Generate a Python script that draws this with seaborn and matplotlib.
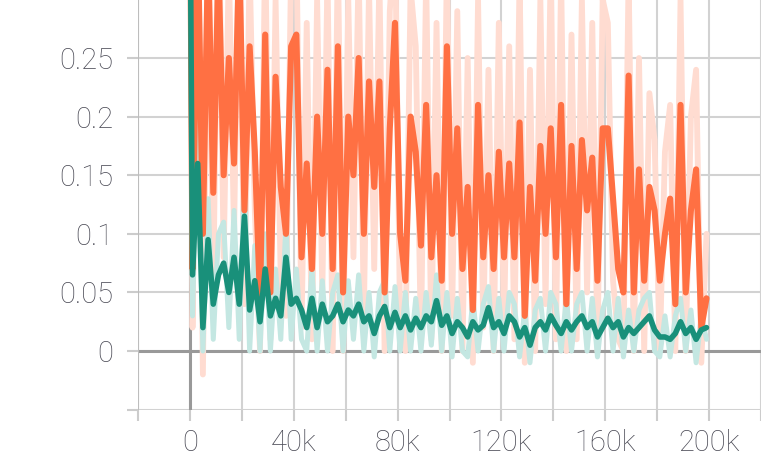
import numpy as np
import pandas as pd
import matplotlib
matplotlib.use("Agg")
import matplotlib.pyplot as plt
import seaborn as sns

# ── Data ──────────────────────────────────────────────────────
steps = [0] + list(range(1000, 200001, 2000))

orange_smooth = [
    0.42, 0.07, 0.36, 0.10, 0.34, 0.135, 0.33, 0.15, 0.25, 0.16,
    0.34, 0.12, 0.26, 0.17, 0.043, 0.27, 0.05, 0.234, 0.14, 0.10,
    0.26, 0.27, 0.08, 0.16, 0.07, 0.20, 0.10, 0.24, 0.07, 0.26,
    0.05, 0.20, 0.15, 0.25, 0.10, 0.23, 0.14, 0.23, 0.05, 0.19,
    0.28, 0.10, 0.06, 0.20, 0.17, 0.09, 0.21, 0.08, 0.15, 0.06,
    0.26, 0.10, 0.19, 0.07, 0.14, 0.035, 0.21, 0.08, 0.15, 0.07,
    0.17, 0.08, 0.16, 0.08, 0.195, 0.03, 0.14, 0.06, 0.175, 0.10,
    0.19, 0.08, 0.21, 0.04, 0.175, 0.07, 0.18, 0.12, 0.165, 0.06,
    0.19, 0.19, 0.13, 0.07, 0.05, 0.235, 0.05, 0.155, 0.06, 0.14,
    0.12, 0.06, 0.10, 0.13, 0.04, 0.21, 0.05, 0.12, 0.155, 0.02,
    0.045,
]

orange_raw = [
    0.45, 0.02, 0.40, -0.02, 0.38, 0.05, 0.40, 0.08, 0.33, 0.10,
    0.38, 0.04, 0.33, 0.12, 0.00, 0.35, 0.01, 0.30, 0.06, 0.03,
    0.33, 0.35, 0.02, 0.28, 0.01, 0.30, 0.05, 0.32, 0.00, 0.34,
    0.00, 0.30, 0.08, 0.33, 0.03, 0.31, 0.07, 0.32, 0.00, 0.29,
    0.36, 0.02, 0.00, 0.31, 0.26, 0.01, 0.32, 0.01, 0.28, 0.00,
    0.33, 0.03, 0.29, 0.00, 0.25, -0.01, 0.30, 0.02, 0.24, 0.00,
    0.28, 0.02, 0.26, 0.01, 0.32, -0.01, 0.24, 0.00, 0.30, 0.04,
    0.33, 0.01, 0.32, 0.00, 0.27, 0.01, 0.30, 0.05, 0.28, 0.00,
    0.30, 0.28, 0.06, 0.01, 0.00, 0.32, 0.00, 0.25, 0.00, 0.22,
    0.18, 0.00, 0.17, 0.21, 0.00, 0.30, 0.00, 0.20, 0.24, -0.01,
    0.10,
]

teal_smooth = [
    0.42, 0.065, 0.16, 0.02, 0.095, 0.04, 0.065, 0.075, 0.05, 0.08,
    0.04, 0.115, 0.035, 0.06, 0.025, 0.07, 0.03, 0.045, 0.03, 0.08,
    0.04, 0.045, 0.035, 0.02, 0.045, 0.02, 0.04, 0.025, 0.03, 0.04,
    0.025, 0.035, 0.03, 0.04, 0.025, 0.03, 0.015, 0.03, 0.038, 0.02,
    0.033, 0.02, 0.03, 0.018, 0.028, 0.02, 0.03, 0.025, 0.043, 0.022,
    0.03, 0.015, 0.025, 0.02, 0.012, 0.025, 0.018, 0.022, 0.037, 0.02,
    0.025, 0.015, 0.03, 0.025, 0.012, 0.02, 0.005, 0.02, 0.025, 0.018,
    0.03, 0.022, 0.015, 0.025, 0.018, 0.025, 0.03, 0.02, 0.025, 0.012,
    0.02, 0.028, 0.02, 0.025, 0.012, 0.02, 0.015, 0.02, 0.025, 0.03,
    0.018, 0.012, 0.012, 0.01, 0.015, 0.025, 0.015, 0.02, 0.01, 0.018,
    0.02,
]

teal_raw = [
    0.45, 0.03, 0.20, 0.00, 0.13, 0.01, 0.10, 0.11, 0.02, 0.12,
    0.01, 0.15, 0.00, 0.09, 0.00, 0.10, 0.00, 0.07, 0.01, 0.11,
    0.01, 0.07, 0.01, 0.00, 0.07, 0.00, 0.06, 0.00, 0.05, 0.065,
    0.00, 0.06, 0.01, 0.065, 0.00, 0.05, -0.005, 0.05, 0.06, 0.00,
    0.055, 0.00, 0.05, 0.00, 0.045, 0.00, 0.05, 0.005, 0.065, 0.00,
    0.05, -0.005, 0.045, 0.00, -0.005, 0.045, 0.00, 0.04, 0.055, 0.00,
    0.045, 0.00, 0.05, 0.04, -0.005, 0.035, -0.01, 0.035, 0.045, 0.00,
    0.05, 0.04, 0.00, 0.045, 0.00, 0.04, 0.05, 0.00, 0.045, -0.005,
    0.035, 0.05, 0.00, 0.045, -0.005, 0.035, 0.00, 0.035, 0.045, 0.05,
    0.00, -0.005, 0.03, -0.005, 0.03, 0.045, 0.00, 0.035, -0.01, 0.03,
    0.01,
]

x_ticks = list(range(-20000, 220001, 20000))
x_labels = ["" if (t < 0 or t % 40000) else ("0" if t == 0 else f"{t // 1000}k")
            for t in x_ticks]
y_ticks = [-0.05, 0, 0.05, 0.1, 0.15, 0.2, 0.25]
y_labels = ["", "0", "0.05", "0.1", "0.15", "0.2", "0.25"]

# ── Style ─────────────────────────────────────────────────────
sns.set_theme(style="white")
plt.rcParams["font.family"] = ["Roboto", "DejaVu Sans"]

fig = plt.figure(figsize=(7.61, 4.61), dpi=100)
ax = fig.add_axes([138 / 761, 51 / 461, 623 / 761, 410 / 461])

df = pd.DataFrame({
    "step": steps,
    "orange_raw": orange_raw,
    "orange": orange_smooth,
    "teal_raw": teal_raw,
    "teal": teal_smooth,
})

sns.lineplot(data=df, x="step", y="orange_raw", color="#ffdcd1",
             lw=4.2, ax=ax, zorder=2)
sns.lineplot(data=df, x="step", y="teal_raw", color="#c4e7e2",
             lw=3.6, ax=ax, zorder=3)
sns.lineplot(data=df, x="step", y="orange", color="#ff7043",
             lw=4.4, ax=ax, zorder=4)
sns.lineplot(data=df, x="step", y="teal", color="#19907a",
             lw=4.0, ax=ax, zorder=5)

ax.set_xlim(-20000, 220000)
ax.set_ylim(-0.0503, 0.2995)
ax.set_xticks(x_ticks)
ax.set_xticklabels(x_labels)
ax.set_yticks(y_ticks)
ax.set_yticklabels(y_labels)
ax.set_xlabel("")
ax.set_ylabel("")

for s in ax.spines.values():
    s.set_visible(False)

ax.grid(True, color="#d2d2d2", lw=1.5, zorder=0)
ax.axhline(0, color="#999999", lw=2.2, zorder=1)
ax.axvline(0, color="#999999", lw=2.2, zorder=1)
ax.axvline(-20000, color="#bdbdbd", lw=1.5, zorder=1)

ax.tick_params(axis="both", which="both", direction="out", length=8,
               width=1.5, color="#cccccc", labelsize=21,
               labelcolor="#4a4a55")
ax.tick_params(axis="y", pad=10, left=True)
ax.tick_params(axis="x", pad=6, bottom=True)
for lab in ax.get_xticklabels() + ax.get_yticklabels():
    lab.set_fontweight("light")

fig.savefig("out.png", dpi=100)
plt.close(fig)
